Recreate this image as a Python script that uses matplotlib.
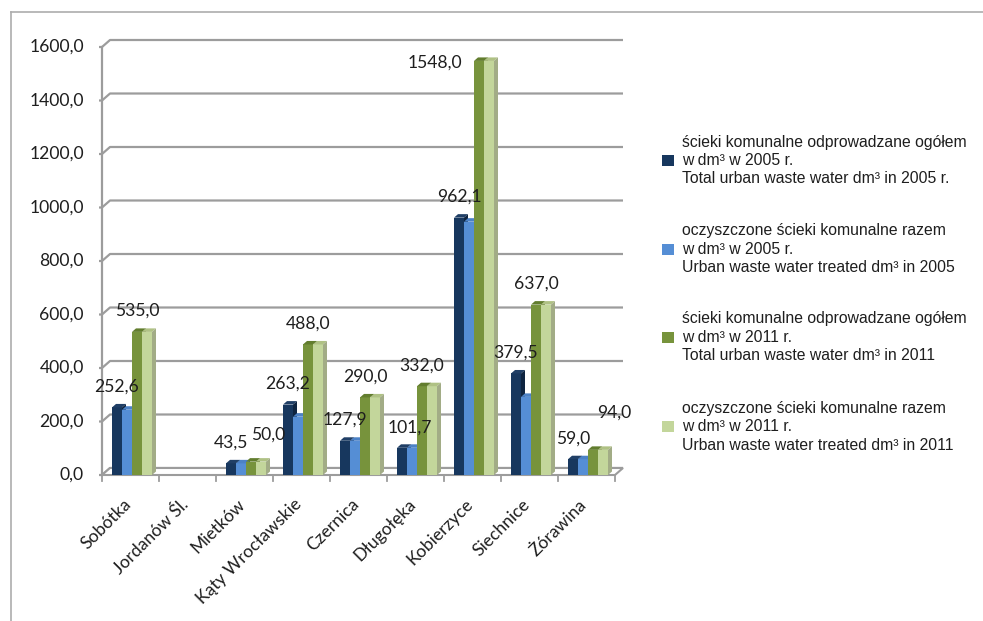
import numpy as np
import matplotlib
matplotlib.use("Agg")
import matplotlib.pyplot as plt
from matplotlib.patches import Polygon, Rectangle
from matplotlib.lines import Line2D
from matplotlib.collections import PolyCollection

# ---- data -------------------------------------------------------------
categories = ["Sobótka", "Jordanów Śl.", "Mietków", "Kąty Wrocławskie", "Czernica",
              "Długołęka", "Kobierzyce", "Siechnice", "Żórawina"]
total_2005 = [252.6, np.nan, 43.5, 263.2, 127.9, 101.7, 962.1, 379.5, 59.0]
treated_2005 = [244.0, np.nan, 43.5, 218.0, 127.9, 101.7, 947.0, 292.0, 59.0]
total_2011 = [535.0, np.nan, 50.0, 488.0, 290.0, 332.0, 1548.0, 637.0, 94.0]
treated_2011 = [535.0, np.nan, 50.0, 488.0, 290.0, 332.0, 1548.0, 637.0, 94.0]
y_ticks = [0, 200, 400, 600, 800, 1000, 1200, 1400, 1600]

legend_labels = [
    ["ścieki komunalne odprowadzane ogółem", "w dm³ w 2005 r.",
     "Total urban waste water dm³ in 2005 r."],
    ["oczyszczone ścieki komunalne razem", "w dm³ w 2005 r.",
     "Urban waste water treated dm³ in 2005"],
    ["ścieki komunalne odprowadzane ogółem", "w dm³ w 2011 r.",
     "Total urban waste water dm³ in 2011"],
    ["oczyszczone ścieki komunalne razem", "w dm³ w 2011 r.",
     "Urban waste water treated dm³ in 2011"],
]

series = [total_2005, treated_2005, total_2011, treated_2011]
labelled_series = [0, 2]

# ---- style ------------------------------------------------------------
front_colors = ["#17375E", "#558ED5", "#77933C", "#C3D69B"]
top_colors = ["#203F66", "#4C82C6", "#627D2E", "#AFC184"]
side_colors = ["#0E2440", "#3C69A6", "#5A7029", "#A2AC86"]
GRID = "#9C9C9C"
TEXT = "#1E1E1E"
LABEL_FONT = ["Lato", "DejaVu Sans"]
LEGEND_FONT = ["Liberation Sans", "DejaVu Sans"]
LABEL_SIZE = 12.6
LEGEND_SIZE = 11.3

W, H = 983, 621
fig = plt.figure(figsize=(W / 100, H / 100), dpi=100)
fig.patch.set_facecolor("white")

# front plane of the 3-D box, in pixels: x 102..615, y 47..475
ax = fig.add_axes([102 / W, (H - 475) / H, 513 / W, 428 / H])
n = len(categories)
ax.set_xlim(0, n)
ax.set_ylim(0, 1600)
ax.axis("off")

sx = n / 513.0      # data units per pixel (x)
sy = 1600 / 428.0   # data units per pixel (y)

wall_dx, wall_dy = 8 * sx, 7 * sy     # depth of the back wall
bar_dx, bar_dy = 4 * sx, 3.5 * sy     # depth of each column
bar_w = 10 * sx
group_pad = 10 * sx

# floor
ax.add_patch(Polygon([(0, 0), (n, 0), (n + wall_dx, wall_dy), (wall_dx, wall_dy)],
                     closed=True, fc="white", ec=GRID, lw=1.5, zorder=1.5,
                     clip_on=False))

# gridlines on the back wall with their short diagonal on the side wall
for v in y_ticks:
    ax.plot([-3 * sx, 0, wall_dx, n + wall_dx], [v, v, v + wall_dy, v + wall_dy],
            color=GRID, lw=1.6, zorder=1, clip_on=False, solid_capstyle="butt")
    ax.text(-18 * sx, v, f"{v:.1f}".replace(".", ","), ha="right", va="center",
            fontsize=LABEL_SIZE, family=LABEL_FONT, color=TEXT)
ax.plot([0, 0], [0, 1600], color=GRID, lw=1.6, zorder=1.6, clip_on=False)

# category ticks under the floor
for k in range(n + 1):
    ax.plot([k, k], [0, -6 * sy], color=GRID, lw=1.3, zorder=1.6, clip_on=False)

# columns
for j, vals in enumerate(series):
    vals = np.asarray(vals, dtype=float)
    z = 3 + j * 0.1
    lefts = np.arange(n) + group_pad + j * bar_w
    ok = ~np.isnan(vals)
    ax.bar(lefts[ok], vals[ok], width=bar_w, align="edge", color=front_colors[j],
           lw=0, zorder=z, clip_on=False)
    tops, sides = [], []
    for l, v in zip(lefts[ok], vals[ok]):
        r = l + bar_w
        tops.append([(l, v), (r, v), (r + bar_dx, v + bar_dy), (l + bar_dx, v + bar_dy)])
        sides.append([(r, 0), (r + bar_dx, bar_dy), (r + bar_dx, v + bar_dy), (r, v)])
    ax.add_collection(PolyCollection(tops, facecolors=top_colors[j], lw=0,
                                     zorder=z + 0.01, clip_on=False))
    ax.add_collection(PolyCollection(sides, facecolors=side_colors[j], lw=0,
                                     zorder=z + 0.01, clip_on=False))

# value labels (pixel offsets from the column's top centre)
label_nudge = {(2, 2): (17, 27), (2, 8): (21, 37), (2, 6): (-44, -2), (0, 5): (8, 20)}
for j in labelled_series:
    for i, v in enumerate(series[j]):
        if np.isnan(v):
            continue
        cx = i + group_pad + j * bar_w + bar_w / 2
        off = label_nudge.get((j, i), (0, 21))
        ax.annotate(f"{v:.1f}".replace(".", ","), (cx, v), xytext=off,
                    textcoords="offset pixels", ha="center", va="center",
                    fontsize=LABEL_SIZE, family=LABEL_FONT, color=TEXT, zorder=10,
                    annotation_clip=False)

# category names
for i, name in enumerate(categories):
    ax.text(i + 0.5 - 2 * sx, -27 * sy, name, rotation=45, rotation_mode="anchor",
            ha="right", va="center", fontsize=LABEL_SIZE, family=LABEL_FONT,
            color=TEXT)

# legend
entry_top = [142, 231, 319, 408]
line_gap = 18.5
for j, lines in enumerate(legend_labels):
    y0 = entry_top[j]
    for k, txt in enumerate(lines):
        fig.text(682 / W, 1 - (y0 + k * line_gap) / H, txt, ha="left", va="center",
                 fontsize=LEGEND_SIZE, family=LEGEND_FONT, color=TEXT)
    yc = y0 + line_gap
    fig.add_artist(Rectangle((662 / W, 1 - (yc + 5.5) / H), 12 / W, 11 / H,
                             transform=fig.transFigure, fc=front_colors[j], lw=0))

# outer chart border (left and top edges)
border = "#ADADAD"
fig.add_artist(Line2D([11 / W, 11 / W], [0, 1 - 12 / H], color=border, lw=1.2,
                      transform=fig.transFigure))
fig.add_artist(Line2D([11 / W, 1], [1 - 12 / H, 1 - 12 / H], color=border, lw=1.2,
                      transform=fig.transFigure))

fig.savefig("out.png", dpi=100)
